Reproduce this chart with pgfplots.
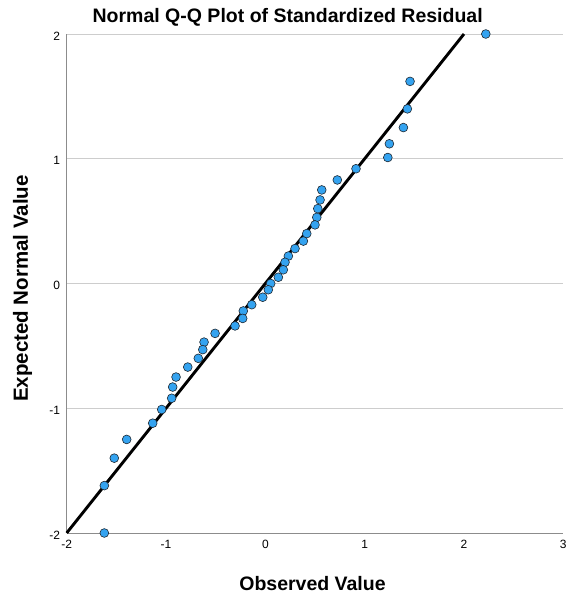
\documentclass[border=0pt]{standalone}
\usepackage{pgfplots}
\pgfplotsset{compat=1.18}
\usepackage{fontspec}
\setmainfont{Liberation Sans}
\definecolor{ptfill}{RGB}{52,163,240}
\definecolor{ptedge}{RGB}{30,40,50}
\definecolor{gridc}{RGB}{205,205,205}
\definecolor{axc}{RGB}{140,140,140}
\begin{document}
\begin{tikzpicture}
\begin{axis}[
  at={(0,0)}, anchor=south west,
  scale only axis, width=496.6pt, height=499pt,
  xmin=-2, xmax=3, ymin=-2, ymax=2,
  xtick={-2,-1,0,1,2,3}, ytick={-2,-1,0,1,2},
  axis x line*=bottom, axis y line*=left,
  axis line style={axc, line width=0.8pt, -},
  ymajorgrids, grid style={gridc, line width=0.8pt},
  major tick length=0pt,
  tick label style={font=\fontsize{12}{14}\selectfont},
  /pgf/number format/assume math mode=true,
  yticklabel style={xshift=-3pt, yshift=-2pt},
  xticklabel style={yshift=-4pt},
  clip=false,
  title={Normal Q-Q Plot of Standardized Residual},
  title style={at={(axis description cs:0.445,1)}, anchor=base, yshift=5pt, font=\bfseries\fontsize{19.5}{24}\selectfont},
  xlabel={Observed Value},
  xlabel style={at={(axis description cs:0.495,0)}, anchor=base, yshift=-57.7pt, font=\bfseries\fontsize{19.5}{23}\selectfont},
  ylabel={Expected Normal Value},
  ylabel style={at={(axis description cs:-0.078,0.49)}, anchor=base, font=\bfseries\fontsize{20.5}{25}\selectfont},
]
\addplot[black, line width=2.9pt, no marks] coordinates {(-2,-2) (2,2)};
\addplot[only marks, mark=*, mark size=4.4pt, mark options={fill=ptfill, draw=ptedge, line width=0.6pt}] coordinates {
(2.22,2.00) (1.457,1.62) (1.430,1.40) (1.390,1.25) (1.249,1.12) (1.233,1.01)
(0.913,0.92) (0.725,0.83) (0.568,0.75) (0.551,0.67) (0.528,0.60) (0.518,0.53)
(0.500,0.47) (0.417,0.40) (0.383,0.34) (0.299,0.28) (0.232,0.22) (0.198,0.17)
(0.181,0.11) (0.131,0.05) (0.054,0.00) (0.030,-0.05) (-0.026,-0.11) (-0.137,-0.17)
(-0.222,-0.22) (-0.228,-0.28) (-0.305,-0.34) (-0.506,-0.40) (-0.617,-0.47) (-0.630,-0.53)
(-0.675,-0.60) (-0.781,-0.67) (-0.899,-0.75) (-0.933,-0.83) (-0.943,-0.92) (-1.043,-1.01)
(-1.134,-1.12) (-1.396,-1.25) (-1.521,-1.40) (-1.621,-1.62) (-1.621,-2.00)
};
\end{axis}
\pgfresetboundingbox
\path[use as bounding box] (-66.7pt,-65pt) rectangle (500.3pt,533pt);
\end{tikzpicture}
\end{document}
